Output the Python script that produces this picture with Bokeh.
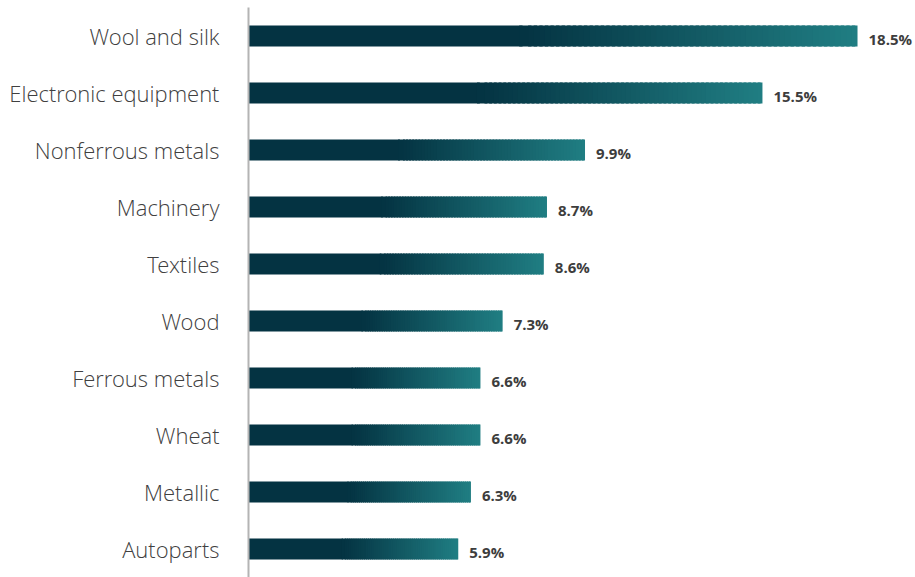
from bokeh.plotting import figure
from bokeh.models import FactorRange, ColumnDataSource
from bokeh.core.properties import value
from bokeh.embed import file_html
from bokeh.resources import INLINE

categories = ["Wool and silk", "Electronic equipment", "Nonferrous metals", "Machinery",
              "Textiles", "Wood", "Ferrous metals", "Wheat", "Metallic", "Autoparts"]
values = [18.5, 15.5, 9.9, 8.7, 8.6, 7.3, 6.6, 6.6, 6.3, 5.9]
labels = ["18.5%", "15.5%", "9.9%", "8.7%", "8.6%", "7.3%", "6.6%", "6.6%", "6.3%", "5.9%"]

base = -0.72
dark = (4, 51, 66)
teal = (32, 126, 131)
stop = 0.45
n_slices = 60
bar_h = 21 / 57  # 21px out of a 57px slot, so edges fall on whole pixels

p = figure(width=915, height=577, output_backend="svg", toolbar_location=None,
           y_range=FactorRange(*reversed(categories), range_padding=0),
           x_range=(base, 20.33),
           min_border_left=248, min_border_right=0, min_border_top=7, min_border_bottom=0)
p.outline_line_color = None
p.background_fill_color = "white"
p.border_fill_color = "white"
p.xgrid.visible = False
p.ygrid.visible = False
p.xaxis.visible = False

# solid dark part of each bar
dsrc = ColumnDataSource(dict(
    y=categories,
    left=[base] * len(values),
    right=[base + (v - base) * stop for v in values],
))
p.hbar(y="y", left="left", right="right", height=bar_h, fill_color="#%02x%02x%02x" % dark,
       line_color=None, source=dsrc)

# gradient part, drawn as thin slices that overlap their neighbour slightly
lefts, rights, ys, cols = [], [], [], []
for cat, v in zip(categories, values):
    span = v - base
    g0 = base + span * stop
    gspan = v - g0
    w = gspan / n_slices
    for i in range(n_slices):
        f = (i + 0.5) / n_slices
        c = tuple(int(round(d + (tt - d) * f)) for d, tt in zip(dark, teal))
        l = g0 + w * i - (w * 0.6 if i == 0 else 0)
        r = g0 + w * (i + 1) + (w * 0.6 if i < n_slices - 1 else 0)
        lefts.append(l)
        rights.append(r)
        ys.append(cat)
        cols.append("#%02x%02x%02x" % c)

src = ColumnDataSource(dict(left=lefts, right=rights, y=ys, color=cols))
p.hbar(y="y", left="left", right="right", height=bar_h, fill_color="color",
       line_color=None, source=src)

lsrc = ColumnDataSource(dict(x=values, y=categories, text=labels))
p.text(x="x", y="y", text="text", source=lsrc, x_offset=11, y_offset=3, text_baseline="middle",
       text_align="left", text_font=value("Open Sans"), text_font_style="bold",
       text_font_size="15px", text_color="#3d3d3d")

ax = p.yaxis[0]
ax.axis_line_color = "#b4b4b4"
ax.axis_line_width = 2
ax.major_tick_line_color = None
ax.minor_tick_line_color = None
ax.major_label_standoff = 23
ax.major_label_text_font = "Open Sans Light"
ax.major_label_text_font_size = "22px"
ax.major_label_text_color = "#404040"

open("out.html", "w").write(file_html(p, INLINE))
